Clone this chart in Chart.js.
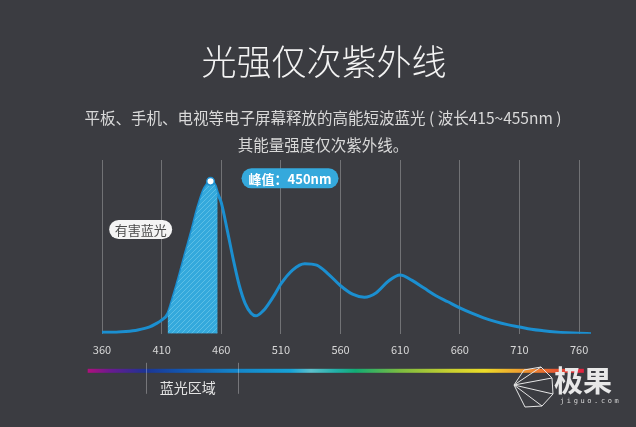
<!DOCTYPE html>
<html>
<head>
<meta charset="utf-8">
<script src="https://cdn.jsdelivr.net/npm/chart.js@4/dist/chart.umd.min.js"></script>
<style>
  body { margin: 0; background: #3b3c41; }
  #wrap { position: relative; width: 636px; height: 427px; overflow: hidden; background: #3b3c41; }
  #chart { position: absolute; left: 0; top: 0; }
  .txt { position: absolute; white-space: nowrap; transform: translateX(-50%); font-family: "Noto Sans CJK SC", "Noto Sans", sans-serif; }
  .title { left: 324px; top: 41px; font-size: 35px; line-height: 38px; color: #f3f3f3; font-weight: 300; }
  .sub { left: 323px; top: 104px; font-size: 15.5px; line-height: 26.5px; color: #d9d9d9; text-align: center; }
  .mark { position: absolute; left: 508px; top: 362px; width: 128px; height: 50px; }
  .mark .big { position: absolute; left: 46px; top: 1px; font-family: "Noto Sans CJK SC", sans-serif; font-size: 29px; line-height: 32px; font-weight: 700; color: #e8e8e8; }
  .mark .small { position: absolute; left: 52px; top: 35px; font-family: "DejaVu Sans Mono", monospace; font-size: 7px; letter-spacing: 2.6px; color: #d8d8d8; }
</style>
</head>
<body>
<div id="wrap">
  <canvas id="chart" width="636" height="427"></canvas>
  <div class="txt title">光强仅次紫外线</div>
  <div class="txt sub">平板、手机、电视等电子屏幕释放的高能短波蓝光 ( 波长415~455nm )<br>其能量强度仅次紫外线。</div>
  <div class="mark">
    <svg width="46" height="46" viewBox="0 0 46 46" style="position:absolute;left:2px;top:2px">
      <g fill="none" stroke="#e6e6e6" stroke-width="1">
        <polygon points="4,21 14,6 31,3 42,14 43,30 32,42 15,43" />
        <line x1="4" y1="21" x2="31" y2="3" />
        <line x1="4" y1="21" x2="42" y2="14" />
        <line x1="4" y1="21" x2="43" y2="30" />
        <line x1="4" y1="21" x2="32" y2="42" />
      </g>
    </svg>
    <div class="big">极果</div>
    <div class="small">jiguo.com</div>
  </div>
</div>
<script>
// wavelength (nm) vs relative light intensity
const wavelengths = [360, 370, 380, 390, 400, 405, 410, 415, 420, 425, 430, 435, 440, 445, 448, 451, 455, 457, 460, 465, 470, 475, 480, 485, 489, 495, 500, 505, 510, 520, 530, 540, 550, 560, 570, 580, 590, 600, 610, 620, 630, 640, 650, 660, 670, 680, 690, 700, 710, 720, 730, 740, 750, 760, 770];
const intensity =   [0.01, 0.01, 0.015, 0.025, 0.045, 0.065, 0.09, 0.13, 0.25, 0.385, 0.53, 0.67, 0.82, 0.94, 0.98, 1.0, 0.97, 0.92, 0.86, 0.68, 0.49, 0.32, 0.2, 0.135, 0.118, 0.15, 0.2, 0.26, 0.327, 0.42, 0.46, 0.45, 0.39, 0.315, 0.26, 0.24, 0.27, 0.345, 0.385, 0.35, 0.3, 0.25, 0.21, 0.17, 0.135, 0.105, 0.08, 0.06, 0.045, 0.03, 0.02, 0.012, 0.007, 0.004, 0];
const xTicks = [360, 410, 460, 510, 560, 610, 660, 710, 760];
const harmfulRange = [415, 457];
const blueRegion = [397, 474];
const spectrumRange = [348, 764];

const peakText = '峰值：450nm';
const harmfulText = '有害蓝光';
const regionText = '蓝光区域';

const FONT = '"Noto Sans CJK SC", "Noto Sans", sans-serif';

const curve = wavelengths.map((w, i) => ({ x: w, y: intensity[i] }));
const harmful = curve.filter(p => p.x >= harmfulRange[0] && p.x <= harmfulRange[1]);

function hatch() {
    const c = document.createElement('canvas');
    c.width = 5; c.height = 5;
    const g = c.getContext('2d');
    g.fillStyle = '#34a9dc';
    g.fillRect(0, 0, 5, 5);
    g.strokeStyle = 'rgba(140, 215, 240, 0.45)';
    g.lineWidth = 1;
    g.beginPath();
    g.moveTo(0, 5); g.lineTo(5, 0);
    g.moveTo(-1, 1); g.lineTo(1, -1);
    g.moveTo(4, 6); g.lineTo(6, 4);
    g.stroke();
    return g.createPattern(c, 'repeat');
}

function pill(ctx, x, y, w, h, fill) {
    ctx.beginPath();
    ctx.roundRect(x, y, w, h, h / 2);
    ctx.fillStyle = fill;
    ctx.fill();
}

const extras = {
    id: 'extras',
    afterDatasetsDraw(chart) {
        const { ctx, scales: { x, y }, chartArea } = chart;
        ctx.save();

        // peak dot
        let pi = 0;
        intensity.forEach((v, i) => { if (v > intensity[pi]) pi = i; });
        const px = x.getPixelForValue(wavelengths[pi]);
        const py = y.getPixelForValue(intensity[pi]);
        ctx.beginPath();
        ctx.arc(px, py, 3.8, 0, Math.PI * 2);
        ctx.fillStyle = '#ffffff';
        ctx.fill();
        ctx.lineWidth = 1.5;
        ctx.strokeStyle = '#1b8fd0';
        ctx.stroke();

        // peak badge
        pill(ctx, px + 31, py - 13, 97, 20, '#35a9dc');
        ctx.fillStyle = '#ffffff';
        ctx.font = 'bold 13px ' + FONT;
        ctx.textAlign = 'center';
        ctx.textBaseline = 'middle';
        ctx.fillText(peakText, px + 79.5, py - 2.5);

        // harmful label
        const hx = x.getPixelForValue(366);
        const hy = chartArea.top + 60;
        pill(ctx, hx, hy, 63, 19, '#f4f4f4');
        ctx.fillStyle = '#4a4a4a';
        ctx.font = '13px ' + FONT;
        ctx.fillText(harmfulText, hx + 31.5, hy + 10);

        // spectrum bar
        const sx0 = x.getPixelForValue(spectrumRange[0]);
        const sx1 = x.getPixelForValue(spectrumRange[1]);
        const sy = chartArea.bottom + 35;
        const grad = ctx.createLinearGradient(sx0, 0, sx1, 0);
        [[0, '#b0107c'], [0.046, '#6a1a90'], [0.117, '#1c3494'], [0.187, '#1256b0'],
         [0.288, '#1482c8'], [0.409, '#16a2d6'], [0.45, '#5cc0cc'], [0.5, '#22b0a8'],
         [0.54, '#12ac74'], [0.63, '#7cbc40'], [0.73, '#c8d030'], [0.8, '#ecdc28'],
         [0.87, '#f0a030'], [0.935, '#e86030'], [1, '#e02040']].forEach(s => grad.addColorStop(s[0], s[1]));
        ctx.fillStyle = grad;
        ctx.fillRect(sx0, sy, sx1 - sx0, 4);

        // blue light region markers
        ctx.strokeStyle = 'rgba(255,255,255,0.3)';
        ctx.lineWidth = 1;
        blueRegion.forEach(w => {
            const bx = Math.round(x.getPixelForValue(w)) + 0.5;
            ctx.beginPath();
            ctx.moveTo(bx, chartArea.bottom + 29);
            ctx.lineTo(bx, chartArea.bottom + 60);
            ctx.stroke();
        });
        ctx.fillStyle = '#e4e4e4';
        ctx.font = '14px ' + FONT;
        ctx.fillText(regionText, x.getPixelForValue(432), chartArea.bottom + 54);

        ctx.restore();
    }
};

new Chart(document.getElementById('chart'), {
    type: 'line',
    data: {
        datasets: [
            {
                // hatched harmful band, drawn over the curve
                data: harmful,
                borderWidth: 0,
                pointRadius: 0,
                backgroundColor: hatch(),
                fill: 'origin',
                cubicInterpolationMode: 'monotone'
            },
            {
                data: curve,
                borderColor: '#1b8fd0',
                borderWidth: 3,
                pointRadius: 0,
                fill: false,
                cubicInterpolationMode: 'monotone'
            }
        ]
    },
    options: {
        responsive: false,
        devicePixelRatio: 1,
        animation: false,
        layout: { padding: { top: 160, left: 102, right: 45, bottom: 62 } },
        plugins: { legend: { display: false }, tooltip: { enabled: false } },
        scales: {
            x: {
                type: 'linear',
                min: 360,
                max: 770,
                afterBuildTicks: scale => { scale.ticks = xTicks.map(v => ({ value: v })); },
                grid: { color: 'rgba(255,255,255,0.28)', lineWidth: 1, drawTicks: false },
                border: { display: false },
                ticks: { color: '#d8d8d8', font: { size: 11, family: FONT }, padding: 9, maxRotation: 0 }
            },
            y: { display: false, min: 0, max: 1.14 }
        }
    },
    plugins: [extras]
});
</script>
</body>
</html>
